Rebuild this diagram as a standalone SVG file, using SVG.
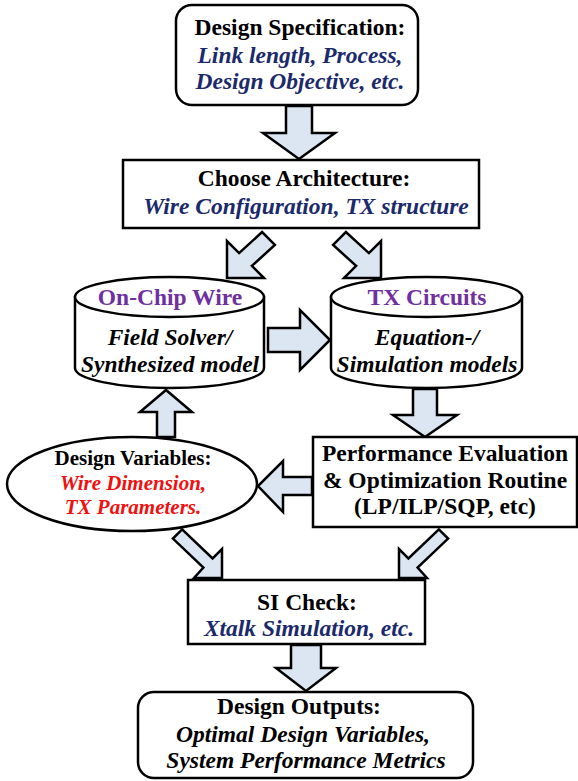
<svg xmlns="http://www.w3.org/2000/svg" width="578" height="781" viewBox="0 0 578 781">
<style>
.box{fill:#fff;stroke:#000;stroke-width:2.5}
.arr{fill:#dce6f2;stroke:#000;stroke-width:2.5;stroke-linejoin:miter}
text{font-family:"Liberation Serif","Times New Roman",serif;font-weight:bold;font-size:23.5px;text-anchor:middle}
.h{fill:#000}
.it{font-style:italic;fill:#1b2a6b}
.ib{font-style:italic;fill:#000}
.pu{fill:#7030a0}
.rd{font-style:italic;fill:#f01010}
.sm{font-size:21px}
</style>
<rect width="578" height="781" fill="#fff"/>
<g id="connectors">
<polygon class="arr" points="286,106 312,106 312,133 335,133 299,159 263,133 286,133"/>
<polygon class="arr" points="227,278 227,241 239.1,253.1 262.1,232.1 274.9,244.9 251.9,265.9 264,278"/>
<polygon class="arr" points="381,278 381,241 368.9,253.1 345.9,232.1 333.1,244.9 356.1,265.9 344,278"/>
<polygon class="arr" points="268,328 300,328 300,310 330,340 300,370 300,352 268,352"/>
<polygon class="arr" points="157,437 157,412 140,412 166,390 192,412 175,412 175,437"/>
<polygon class="arr" points="413,389 437,389 437,415 457,415 425,437 393,415 413,415"/>
<polygon class="arr" points="312,477 283,477 283,461 258,486 283,512 283,495 312,495"/>
<polygon class="arr" points="182.1,529.4 212.6,558.4 222,549 222,578 194,578 203.4,567.6 172.9,538.6"/>
<polygon class="arr" points="438.9,529.4 408.4,558.4 399,549 399,578 427,578 417.6,567.6 448.1,538.6"/>
<polygon class="arr" points="291,645 321,645 321,668 336,668 306,691 276,668 291,668"/>
</g>
<g id="spec">
<rect class="box" x="176" y="5" width="242" height="100" rx="16"/>
<text class="h" x="300" y="35">Design Specification:</text>
<text class="it" x="300" y="63">Link length, Process,</text>
<text class="it" x="300" y="89">Design Objective, etc.</text>
</g>
<g id="arch">
<rect class="box" x="123" y="160" width="356" height="68"/>
<text class="h" x="304" y="186">Choose Architecture:</text>
<text class="it" x="306" y="214">Wire Configuration, TX structure</text>
</g>
<g id="wire">
<path class="box" d="M75,297 L75,368 A94.5,20 0 0 0 264,368 L264,297 Z"/>
<ellipse class="box" cx="169.5" cy="297" rx="94.5" ry="20"/>
<text class="pu" x="170" y="305">On-Chip Wire</text>
<text class="ib" x="170" y="345">Field Solver/</text>
<text class="ib" x="170" y="372">Synthesized model</text>
</g>
<g id="tx">
<path class="box" d="M331,297 L331,368 A95.5,20 0 0 0 522,368 L522,297 Z"/>
<ellipse class="box" cx="426.5" cy="297" rx="95.5" ry="20"/>
<text class="pu" x="427" y="305">TX Circuits</text>
<text class="ib" x="427" y="345">Equation-/</text>
<text class="ib" x="427" y="372">Simulation models</text>
</g>
<g id="perf">
<rect class="box" x="313" y="437" width="264" height="90"/>
<text class="h" x="445" y="461">Performance Evaluation</text>
<text class="h" x="445" y="488">&amp; Optimization Routine</text>
<text class="h" x="445" y="514">(LP/ILP/SQP, etc)</text>
</g>
<g id="vars">
<ellipse class="box" cx="132" cy="484" rx="125" ry="47"/>
<text class="h sm" x="133" y="465">Design Variables:</text>
<text class="rd sm" x="133" y="490">Wire Dimension,</text>
<text class="rd sm" x="133" y="514">TX Parameters.</text>
</g>
<g id="si">
<rect class="box" x="188" y="580" width="237" height="64"/>
<text class="h" x="307" y="610">SI Check:</text>
<text class="it" x="309" y="636">Xtalk Simulation, etc.</text>
</g>
<g id="out">
<rect class="box" x="138" y="692" width="335" height="86" rx="16"/>
<text class="h" x="299" y="714">Design Outputs:</text>
<text class="ib" x="303" y="742">Optimal Design Variables,</text>
<text class="ib" x="306" y="768">System Performance Metrics</text>
</g>
</svg>
